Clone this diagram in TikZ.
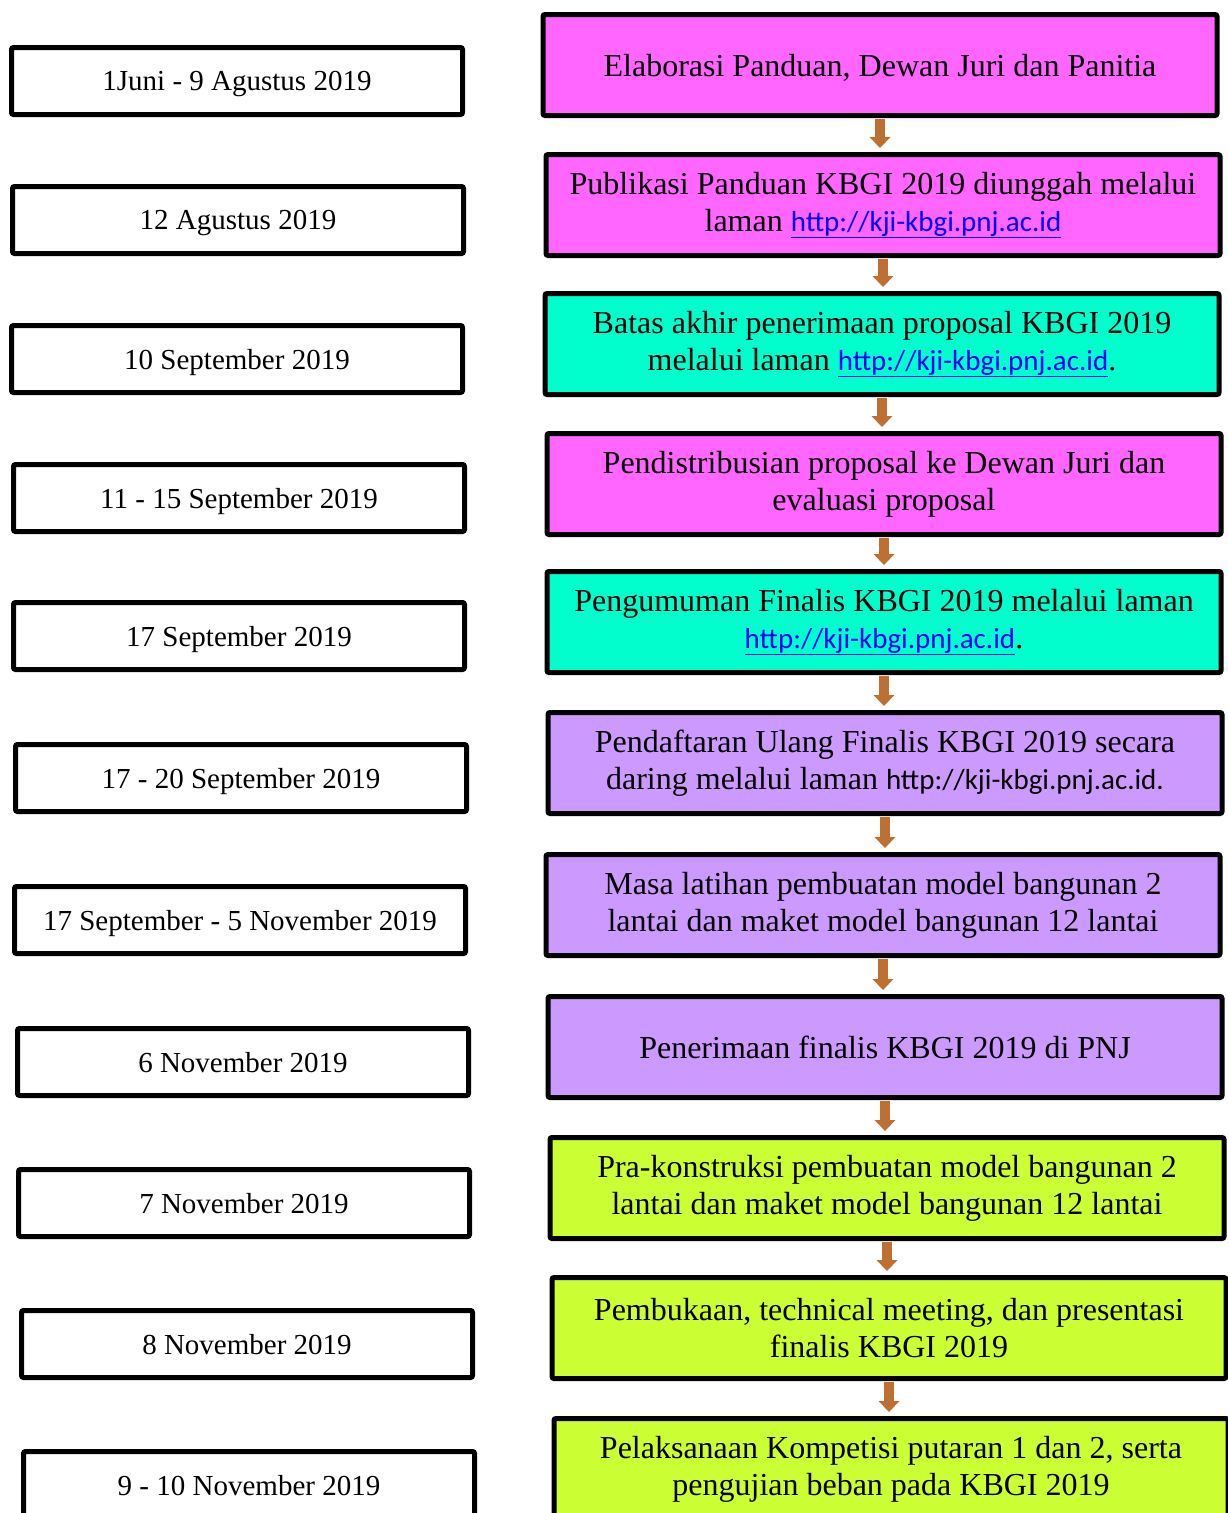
\documentclass[tikz,border=0pt]{standalone}
\usepackage{fontspec}
\setmainfont{Liberation Serif}
\newfontfamily\linkfont{Carlito}
\usetikzlibrary{arrows.meta}

\definecolor{stagepink}{RGB}{255,102,255}
\definecolor{stagecyan}{RGB}{0,255,204}
\definecolor{stagelilac}{RGB}{204,153,255}
\definecolor{stagelime}{RGB}{204,255,51}
\definecolor{arrowbrown}{RGB}{190,112,50}
\definecolor{linkblue}{RGB}{0,0,255}

\newcommand\stagefont{\fontsize{32}{37}\selectfont}
\newcommand\datefont{\fontsize{29}{34}\selectfont}
\newcommand\plainlink[1]{{\linkfont\fontsize{29}{34}\selectfont #1}}
\newcommand\weblink[1]{{\color{linkblue}\underline{\plainlink{#1}}}}

\tikzset{
  datebox/.style={draw,line width=5pt,rounded corners=2pt,fill=white,
    minimum width=451pt,minimum height=67pt,text depth=0pt,font=\datefont},
  stagebox/.style={draw,line width=5pt,rounded corners=2pt,
    minimum width=674pt,minimum height=101pt,align=center,font=\stagefont},
  oneline/.style={text depth=0pt},
  flowarrow/.style={draw=arrowbrown,line width=10pt,
    -{Triangle[width=21pt,length=11pt,line width=0pt]},
    shorten <=1pt,shorten >=4pt}
}

\begin{document}
\begin{tikzpicture}[x=1pt,y=-1pt]
  \useasboundingbox (0,0) rectangle (1228,1513);
  \clip (0,0) rectangle (1228,1513);

  % dates
  \node[datebox] (d1) at (237,81) {1Juni - 9 Agustus 2019};
  \node[datebox] (d2) at (238,220) {12 Agustus 2019};
  \node[datebox] (d3) at (237,359) {10 September 2019};
  \node[datebox] (d4) at (239,498) {11 - 15 September 2019};
  \node[datebox] (d5) at (239,636) {17 September 2019};
  \node[datebox] (d6) at (241,778) {17 - 20 September 2019};
  \node[datebox] (d7) at (240,920) {17 September - 5 November 2019};
  \node[datebox] (d8) at (243,1062) {6 November 2019};
  \node[datebox] (d9) at (244,1203) {7 November 2019};
  \node[datebox] (d10) at (247,1344) {8 November 2019};
  \node[datebox] (d11) at (249,1485) {9 - 10 November 2019};

  % stages
  \node[stagebox,oneline,fill=stagepink] (s1) at (880,65)
    {Elaborasi Panduan, Dewan Juri dan Panitia};
  \node[stagebox,fill=stagepink] (s2) at (883,205)
    {Publikasi Panduan KBGI 2019 diunggah melalui\\
     laman \weblink{http://kji-kbgi.pnj.ac.id}};
  \node[stagebox,fill=stagecyan] (s3) at (882,344)
    {Batas akhir penerimaan proposal KBGI 2019\\
     melalui laman \weblink{http://kji-kbgi.pnj.ac.id}.};
  \node[stagebox,fill=stagepink] (s4) at (884,484)
    {Pendistribusian proposal ke Dewan Juri dan\\ evaluasi proposal};
  \node[stagebox,fill=stagecyan] (s5) at (884,622)
    {Pengumuman Finalis KBGI 2019 melalui laman\\
     \weblink{http://kji-kbgi.pnj.ac.id}.};
  \node[stagebox,fill=stagelilac] (s6) at (885,763)
    {Pendaftaran Ulang Finalis KBGI 2019 secara\\
     daring melalui laman \plainlink{http://kji-kbgi.pnj.ac.id.}};
  \node[stagebox,fill=stagelilac] (s7) at (883,905)
    {Masa latihan pembuatan model bangunan 2\\
     lantai dan maket model bangunan 12 lantai};
  \node[stagebox,oneline,fill=stagelilac] (s8) at (885,1047)
    {Penerimaan finalis KBGI 2019 di PNJ};
  \node[stagebox,fill=stagelime] (s9) at (887,1188)
    {Pra-konstruksi pembuatan model bangunan 2\\
     lantai dan maket model bangunan 12 lantai};
  \node[stagebox,fill=stagelime] (s10) at (889,1328)
    {Pembukaan, technical meeting, dan presentasi\\ finalis KBGI 2019};
  \node[stagebox,fill=stagelime] (s11) at (891,1469)
    {Pelaksanaan Kompetisi putaran 1 dan 2, serta\\
     pengujian beban pada KBGI 2019};

  % arrows between stages
  \foreach \i [evaluate=\i as \j using int(\i+1)] in {1,...,10}
    \draw[flowarrow] (s\i.south) -- (s\i.south |- s\j.north);
\end{tikzpicture}
\end{document}
